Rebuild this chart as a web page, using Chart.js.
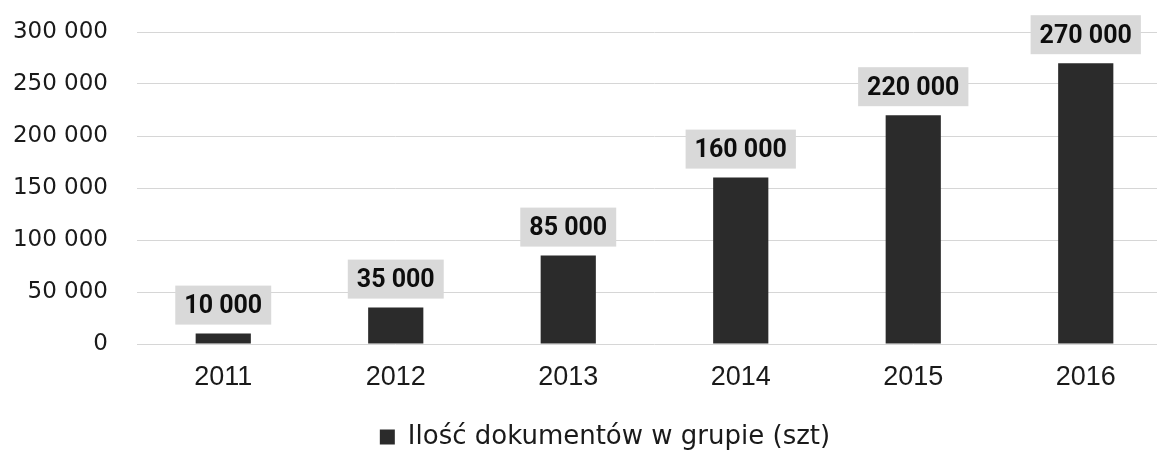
<!DOCTYPE html>
<html>
<head>
<meta charset="utf-8">
<script src="https://cdn.jsdelivr.net/npm/chart.js@4/dist/chart.umd.min.js"></script>
<style>
  html, body { margin: 0; padding: 0; background: #fff; overflow: hidden; }
  #wrap { width: 1172px; height: 460px; position: relative; }
</style>
</head>
<body>
<div id="wrap"><canvas id="chart"></canvas></div>
<script>
// Documents in the group, per year
const years = ['2011', '2012', '2013', '2014', '2015', '2016'];
const documents = [10000, 35000, 85000, 160000, 220000, 270000];
const seriesName = 'Ilość dokumentów w grupie (szt)';
const yTicks = [0, 50000, 100000, 150000, 200000, 250000, 300000];

const barColor = '#2b2b2b';
const labelBoxColor = '#d9d9d9';
const fmt = v => String(v).replace(/\B(?=(\d{3})+(?!\d))/g, ' ');

// Value labels drawn in grey boxes above each bar
const valueBoxes = {
  id: 'valueBoxes',
  afterDatasetsDraw(chart) {
    const ctx = chart.ctx;
    const meta = chart.getDatasetMeta(0);
    ctx.save();
    ctx.font = 'bold 25px Roboto, "Liberation Sans", sans-serif';
    ctx.textAlign = 'center';
    ctx.textBaseline = 'middle';
    meta.data.forEach((bar, i) => {
      const text = fmt(chart.data.datasets[0].data[i]);
      const w = ctx.measureText(text).width + 18;
      const h = 39;
      const bottom = bar.y - 9;
      ctx.fillStyle = labelBoxColor;
      ctx.fillRect(bar.x - w / 2, bottom - h, w, h);
      ctx.fillStyle = '#0d0d0d';
      ctx.fillText(text, bar.x, bottom - h / 2 + 2);
    });
    ctx.restore();
  }
};

// Centre the legend under the full page width rather than the canvas
const legendShift = {
  id: 'legendShift',
  afterLayout(chart) {
    if (chart.legend) {
      chart.legend.left += 19;
      chart.legend.right += 19;
    }
  }
};

new Chart(document.getElementById('chart'), {
  type: 'bar',
  data: {
    labels: years,
    datasets: [{
      label: seriesName,
      data: documents,
      backgroundColor: barColor,
      borderWidth: 0,
      barPercentage: 0.64,
      categoryPercentage: 0.5
    }]
  },
  options: {
    responsive: true,
    maintainAspectRatio: false,
    animation: false,
    layout: { padding: { top: 32, left: 0, right: 0, bottom: 0 } },
    plugins: {
      tooltip: { enabled: false },
      legend: {
        position: 'bottom',
        labels: {
          color: '#1a1a1a',
          font: { family: '"DejaVu Sans", sans-serif', size: 26 },
          boxWidth: 15,
          boxHeight: 15,
          padding: 10
        }
      }
    },
    scales: {
      x: {
        grid: { display: false, drawTicks: false },
        border: { display: false },
        ticks: {
          color: '#1a1a1a',
          font: { family: '"Liberation Sans", sans-serif', size: 27 },
          padding: 17
        },
        afterFit(scale) { scale.height = 70; }
      },
      y: {
        min: 0,
        max: 300000,
        afterBuildTicks(scale) { scale.ticks = yTicks.map(v => ({ value: v })); },
        grid: { color: '#d6d6d6', lineWidth: 1, drawTicks: false },
        border: { display: false },
        ticks: {
          color: '#1a1a1a',
          font: { family: '"DejaVu Sans", sans-serif', size: 23, lineHeight: 0.2 },
          padding: 29,
          callback: v => fmt(v)
        },
        afterFit(scale) { scale.width = 137; }
      }
    }
  },
  plugins: [valueBoxes, legendShift]
});
</script>
</body>
</html>
